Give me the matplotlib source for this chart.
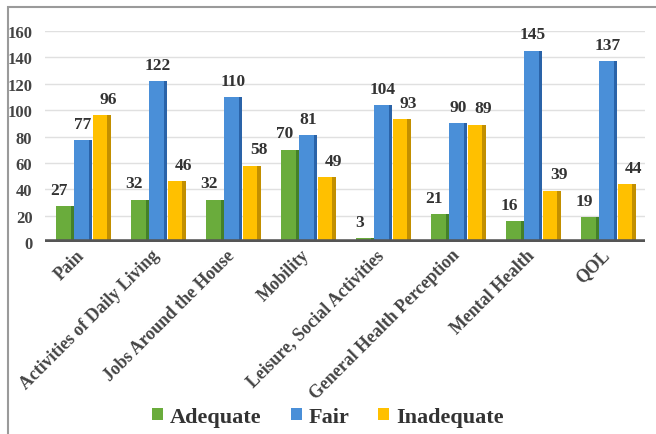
import matplotlib
matplotlib.use("Agg")
import matplotlib.pyplot as plt
import numpy as np
from matplotlib.patches import Rectangle

categories = ["Pain", "Activities of Daily Living", "Jobs Around the House", "Mobility",
              "Leisure, Social Activities", "General Health Perception", "Mental Health", "QOL"]
adequate = [27, 32, 32, 70, 3, 21, 16, 19]
fair = [77, 122, 110, 81, 104, 90, 145, 137]
inadequate = [96, 46, 58, 49, 93, 89, 39, 44]
series_names = ["Adequate", "Fair", "Inadequate"]
yticks = [0, 20, 40, 60, 80, 100, 120, 140, 160]

colors = ["#6aac3c", "#4a8fd8", "#ffc000"]
side_colors = ["#44802a", "#2a63a8", "#c28f00"]
label_offsets = [(-4, 6), (0, 6), (5, 6)]

plt.rcParams['font.family'] = ['Liberation Serif', 'DejaVu Serif']
plt.rcParams['font.weight'] = 'bold'

fig = plt.figure(figsize=(6.56, 4.35), dpi=100)
# outer frame
fig.patches.append(Rectangle((8/656, -0.05), 1.0, 1 - 8/435 + 0.05, transform=fig.transFigure,
                             fill=False, edgecolor="#9a9a9a", linewidth=1.5))

ax = fig.add_axes([45/656, 192/435, 600/656, (243-32)/435])
x = np.arange(len(categories))
w = 0.19
offs = [-0.255, -0.015, 0.235]
for i, vals in enumerate([adequate, fair, inadequate]):
    pos = x + offs[i]
    ax.bar(pos, vals, width=w, color=colors[i], zorder=3, label=series_names[i])
    ax.bar(pos + w/2 + 0.025, vals, width=0.05, color=side_colors[i], zorder=3)
    for p, v in zip(pos, vals):
        ax.annotate(str(v), (p + 0.02, v), xytext=label_offsets[i], textcoords="offset points",
                    ha="center", va="bottom", fontsize=12.5, fontweight="bold", color="#333333")

ax.set_ylim(0, 160)
ax.set_xlim(-0.5, len(categories) - 0.5)
ax.set_yticks(yticks)
ax.set_yticklabels([str(t) for t in yticks], fontsize=12, fontweight="bold", color="#444444")
ax.tick_params(axis="y", length=0, pad=9)
ax.tick_params(axis="x", length=0, pad=3)
ax.set_xticks(x - 0.09)
ax.set_xticklabels(categories, rotation=45, ha="right", rotation_mode="anchor",
                   fontsize=12.8, fontweight="bold", color="#444444")
ax.grid(axis="y", color="#e0e0e0", linewidth=1, zorder=0)
for s in ax.spines.values():
    s.set_visible(False)
ax.axhline(0, color="#555555", linewidth=4, zorder=4)

handles, labels = ax.get_legend_handles_labels()
fig.legend(handles, labels, loc="lower center", bbox_to_anchor=(0.5, -0.03), ncol=3, frameon=False,
           handlelength=0.5, handleheight=0.5, handletextpad=0.3, columnspacing=1.3,
           prop={"size": 16, "weight": "bold"}, labelcolor="#333333")

fig.savefig("out.png", dpi=100)
